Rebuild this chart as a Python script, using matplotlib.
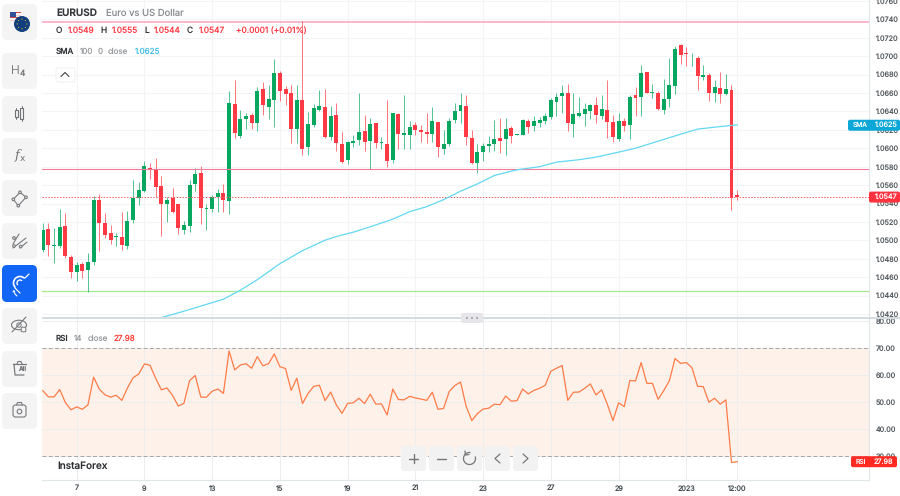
import numpy as np
import matplotlib
matplotlib.use('Agg')
import matplotlib.pyplot as plt
from matplotlib.patches import FancyBboxPatch, Circle, Ellipse, Rectangle, Wedge, Arc

plt.rcParams['font.family'] = ['Inter', 'DejaVu Sans']
plt.rcParams['text.hinting'] = 'no_hinting'
plt.rcParams['text.hinting_factor'] = 1

# H4 candles
opens = [1.04894, 1.05118, 1.04941, 1.04937, 1.05155, 1.04822, 1.04659, 1.04742, 1.04677, 1.04767,
         1.05437, 1.05184, 1.05075, 1.05032, 1.05039, 1.04937, 1.05220, 1.05455, 1.05538, 1.05788,
         1.05770, 1.05589, 1.05394, 1.05462, 1.05394, 1.05111, 1.05155, 1.05607, 1.05734, 1.05336,
         1.05336, 1.05473, 1.05509, 1.05430, 1.06476, 1.06136, 1.06317, 1.06360, 1.06277, 1.06642,
         1.06451, 1.06527, 1.06820, 1.06642, 1.06603, 1.06208, 1.06519, 1.06009, 1.06251, 1.06414,
         1.06451, 1.06118, 1.06360, 1.06049, 1.05871, 1.06056, 1.06085, 1.06190, 1.06078, 1.06273,
         1.06056, 1.06045, 1.05871, 1.06367, 1.06146, 1.06143, 1.06248, 1.06197, 1.06172, 1.06157,
         1.06281, 1.05994, 1.06042, 1.06302, 1.06404, 1.06458, 1.06110, 1.05842, 1.05958, 1.06023,
         1.06042, 1.06114, 1.06100, 1.06219, 1.06147, 1.06143, 1.06299, 1.06244, 1.06273, 1.06299,
         1.06342, 1.06505, 1.06570, 1.06603, 1.06266, 1.06353, 1.06375, 1.06404, 1.06472, 1.06353,
         1.06411, 1.06281, 1.06100, 1.06291, 1.06252, 1.06574, 1.06552, 1.06831, 1.06595, 1.06599,
         1.06414, 1.06534, 1.06679, 1.07120, 1.07033, 1.06975, 1.06983, 1.06776, 1.06791, 1.06595,
         1.06650, 1.06588, 1.06628, 1.05490]
closes = [1.05111, 1.04948, 1.04948, 1.05140, 1.04832, 1.04659, 1.04731, 1.04666, 1.04760, 1.05437,
          1.05184, 1.05057, 1.05003, 1.05050, 1.04948, 1.05209, 1.05455, 1.05546, 1.05803, 1.05770,
          1.05582, 1.05390, 1.05437, 1.05303, 1.05129, 1.05166, 1.05600, 1.05719, 1.05347, 1.05350,
          1.05466, 1.05509, 1.05437, 1.06487, 1.06161, 1.06320, 1.06349, 1.06270, 1.06621, 1.06469,
          1.06537, 1.06820, 1.06624, 1.06588, 1.06212, 1.06523, 1.05994, 1.06262, 1.06432, 1.06458,
          1.06125, 1.06349, 1.06060, 1.05846, 1.06067, 1.06081, 1.06175, 1.06063, 1.06262, 1.06060,
          1.06067, 1.05861, 1.06382, 1.06157, 1.06161, 1.06230, 1.06194, 1.06172, 1.06157, 1.06295,
          1.06016, 1.06042, 1.06299, 1.06407, 1.06469, 1.06118, 1.05842, 1.05958, 1.06027, 1.06042,
          1.06103, 1.06081, 1.06212, 1.06136, 1.06154, 1.06302, 1.06233, 1.06291, 1.06306, 1.06349,
          1.06519, 1.06559, 1.06599, 1.06273, 1.06371, 1.06385, 1.06425, 1.06469, 1.06360, 1.06425,
          1.06284, 1.06118, 1.06295, 1.06241, 1.06559, 1.06545, 1.06820, 1.06603, 1.06606, 1.06425,
          1.06537, 1.06686, 1.07073, 1.07012, 1.07026, 1.06983, 1.06787, 1.06794, 1.06599, 1.06661,
          1.06592, 1.06642, 1.05459, 1.05470]
highs = [1.05184, 1.05184, 1.05129, 1.05336, 1.05292, 1.04840, 1.04767, 1.04767, 1.04858, 1.05480,
         1.05502, 1.05292, 1.05166, 1.05075, 1.05310, 1.05321, 1.05654, 1.05636, 1.05864, 1.05842,
         1.05890, 1.05698, 1.05473, 1.05571, 1.05394, 1.05209, 1.05654, 1.05781, 1.05810, 1.05394,
         1.05491, 1.05553, 1.05611, 1.06621, 1.06740, 1.06414, 1.06385, 1.06385, 1.06668, 1.06722,
         1.06686, 1.06965, 1.06838, 1.06679, 1.06686, 1.06686, 1.07380, 1.06396, 1.06476, 1.06632,
         1.06642, 1.06458, 1.06487, 1.06179, 1.06078, 1.06143, 1.06595, 1.06360, 1.06324, 1.06273,
         1.06125, 1.06523, 1.06382, 1.06378, 1.06577, 1.06299, 1.06288, 1.06251, 1.06378, 1.06451,
         1.06288, 1.06197, 1.06324, 1.06487, 1.06595, 1.06574, 1.06197, 1.06045, 1.06052, 1.06132,
         1.06306, 1.06324, 1.06324, 1.06241, 1.06154, 1.06313, 1.06317, 1.06349, 1.06335, 1.06378,
         1.06541, 1.06603, 1.06686, 1.06693, 1.06603, 1.06559, 1.06494, 1.06480, 1.06552, 1.06577,
         1.06740, 1.06360, 1.06378, 1.06324, 1.06577, 1.06668, 1.06903, 1.06831, 1.06697, 1.06621,
         1.06747, 1.06983, 1.07113, 1.07127, 1.07095, 1.07037, 1.07001, 1.06903, 1.06813, 1.06740,
         1.06831, 1.06802, 1.06686, 1.05550]
lows = [1.04876, 1.04832, 1.04756, 1.04912, 1.04804, 1.04594, 1.04557, 1.04594, 1.04442, 1.04731,
        1.04883, 1.05021, 1.04959, 1.04941, 1.04894, 1.04901, 1.05184, 1.05383, 1.05528, 1.05665,
        1.05473, 1.05046, 1.05195, 1.05292, 1.05068, 1.05068, 1.05093, 1.05538, 1.05176, 1.05111,
        1.05310, 1.05310, 1.05310, 1.05285, 1.06114, 1.06107, 1.06212, 1.06204, 1.06190, 1.06360,
        1.06313, 1.06226, 1.06512, 1.06465, 1.06052, 1.06060, 1.05926, 1.05926, 1.06226, 1.06407,
        1.06107, 1.06089, 1.05973, 1.05842, 1.05824, 1.06016, 1.06034, 1.05969, 1.05770, 1.05998,
        1.05987, 1.05799, 1.05835, 1.05987, 1.05987, 1.05991, 1.06143, 1.06071, 1.06052, 1.06071,
        1.05900, 1.05933, 1.06027, 1.06270, 1.06270, 1.06034, 1.05828, 1.05734, 1.05864, 1.05962,
        1.05973, 1.05951, 1.05926, 1.06060, 1.06147, 1.06139, 1.06168, 1.06190, 1.06226, 1.06259,
        1.06313, 1.06353, 1.06378, 1.06190, 1.06118, 1.06335, 1.06241, 1.06313, 1.06277, 1.06313,
        1.06114, 1.06063, 1.06081, 1.06186, 1.06103, 1.06353, 1.06349, 1.06595, 1.06545, 1.06414,
        1.06371, 1.06443, 1.06588, 1.06914, 1.06892, 1.06892, 1.06632, 1.06740, 1.06512, 1.06498,
        1.06494, 1.06577, 1.05332, 1.05440]

sma_bars = [21, 25, 32, 35, 38, 42, 46, 50, 52, 55, 58, 62, 65, 68, 71, 74, 77, 80, 84, 88, 91, 95, 98,
            102, 105, 109, 113, 116, 119, 123]
sma_vals = [1.04161, 1.04231, 1.04361, 1.04459, 1.04573, 1.04747, 1.04888, 1.05002, 1.05042, 1.05089,
            1.05147, 1.05230, 1.05312, 1.05366, 1.05442, 1.05534, 1.05613, 1.05705, 1.05766, 1.05800,
            1.05849, 1.05876, 1.05904, 1.05958, 1.06001, 1.06077, 1.06153, 1.06208, 1.06229, 1.06254]

rsi = [54.3, 52.0, 52.0, 54.7, 49.9, 47.2, 48.3, 47.4, 49.0, 59.3, 54.9, 52.8, 51.9, 52.6, 50.7, 55.3,
       59.1, 60.5, 64.2, 63.7, 58.9, 54.6, 55.3, 52.5, 48.6, 49.6, 58.0, 59.9, 51.9, 51.9, 54.1, 54.9,
       53.3, 69.0, 62.0, 63.8, 64.3, 62.6, 66.9, 63.5, 64.3, 67.9, 63.2, 62.5, 54.4, 58.9, 49.5, 53.3,
       55.9, 56.3, 50.6, 53.8, 49.0, 45.9, 49.6, 49.8, 51.5, 49.5, 53.0, 49.3, 49.4, 45.3, 54.9, 51.0,
       50.9, 52.2, 51.6, 51.2, 50.7, 53.7, 47.4, 47.7, 54.0, 56.2, 57.5, 48.5, 43.2, 45.8, 47.5, 47.8,
       49.3, 49.1, 52.3, 50.4, 50.6, 54.9, 53.1, 54.4, 55.2, 56.3, 61.5, 62.6, 63.6, 50.7, 53.7, 53.8,
       55.2, 56.8, 52.7, 54.6, 49.3, 43.2, 49.8, 48.4, 58.1, 57.9, 64.7, 57.0, 57.0, 51.1, 54.3, 58.0,
       66.2, 64.4, 64.7, 62.8, 55.9, 55.8, 50.0, 51.5, 49.3, 50.9, 27.7, 27.98]

price_ticks = [1.0760, 1.0740, 1.0720, 1.0700, 1.0680, 1.0660, 1.0640, 1.0620, 1.0600, 1.0580, 1.0560,
               1.0540, 1.0520, 1.0500, 1.0480, 1.0460, 1.0440, 1.0420]
rsi_ticks = [80, 70, 60, 50, 40, 30]
x_bars = [6, 18, 30, 42, 54, 66, 78, 90, 102, 114, 123]
x_labels = ['7', '9', '13', '15', '19', '21', '23', '27', '29', '2023', '12:00']

resistance_hi = 1.07374
resistance_lo = 1.0577
support = 1.0445
last_close = 1.0547
sma_last = 1.0625
rsi_last = 27.98

GREEN = '#08a760'
RED = '#ff3a45'
GRID = '#f2f4f5'
W, H = 900, 496

fig = plt.figure(figsize=(9, 4.96), dpi=100, facecolor='white')


def px_axes(x0, y0, x1, y1):
    return fig.add_axes([x0 / W, 1 - y1 / H, (x1 - x0) / W, (y1 - y0) / H])


# price pane
ax = px_axes(42, 0, 869, 318)
bars = np.arange(len(opens))
o, c, h, l = map(np.array, (opens, closes, highs, lows))
colors = np.where(c >= o, GREEN, RED)
ax.set_xlim(-0.14, 146.36)
ax.set_ylim(1.04157, 1.07610)
ax.set_yticks(price_ticks)
ax.set_yticklabels(['%.4f' % t for t in price_ticks])
ax.set_xticks(x_bars)
ax.set_xticklabels([])
ax.yaxis.tick_right()
ax.tick_params(axis='y', length=0, labelsize=5.2, labelcolor='#555b60', pad=5)
ax.tick_params(axis='x', length=0)
ax.grid(True, color=GRID, lw=0.8)
ax.set_axisbelow(True)
for s in ['top', 'left', 'bottom']:
    ax.spines[s].set_visible(False)
ax.spines['right'].set_color('#dfe6e8')
ax.spines['right'].set_linewidth(0.8)

ax.axhline(resistance_hi, color='#f9a3bb', lw=1.1, zorder=1)
ax.axhline(resistance_lo, color='#f9799a', lw=0.8, zorder=4)
ax.axhline(support, color='#a5e88e', lw=0.9, zorder=1)
ax.axhline(last_close, color='#f2626a', lw=0.7, ls=(0, (1.5, 1.5)), zorder=4)
ax.vlines(bars, l, h, colors=colors, lw=0.7, alpha=0.7, zorder=2)
ax.bar(bars, np.maximum(np.abs(c - o), 0.00006), bottom=np.minimum(o, c), width=0.7, color=colors,
       lw=0, zorder=3)
ax.plot(sma_bars, sma_vals, color='#62d8f2', lw=0.9, zorder=5)

# rsi pane
ax2 = px_axes(42, 319, 869, 480)
ax2.set_xlim(-0.14, 146.36)
ax2.set_ylim(21.2, 80.85)
ax2.axhspan(30, 70, color='#fdf1ea', lw=0, zorder=0)
ax2.axhline(70, color='#a9a5a3', lw=0.7, ls=(0, (4, 2.5)), zorder=1)
ax2.axhline(30, color='#a9a5a3', lw=0.7, ls=(0, (4, 2.5)), zorder=1)
ax2.plot(bars, rsi, color='#ff7b47', lw=0.9, zorder=3)
ax2.set_yticks(rsi_ticks)
ax2.set_yticklabels(['%.2f' % t for t in rsi_ticks])
ax2.set_xticks(x_bars)
ax2.set_xticklabels(x_labels)
ax2.yaxis.tick_right()
ax2.tick_params(axis='y', length=0, labelsize=5.2, labelcolor='#555b60', pad=5)
ax2.tick_params(axis='x', length=0, labelsize=5.2, labelcolor='#444a4f', pad=3.5)
ax2.grid(True, color='#ecedee', lw=0.7, zorder=0)
ax2.set_axisbelow(True)
for s in ['top', 'left']:
    ax2.spines[s].set_visible(False)
for s in ['right', 'bottom']:
    ax2.spines[s].set_color('#dfe6e8')
    ax2.spines[s].set_linewidth(0.8)

# overlay in pixel coordinates for the app chrome
ui = fig.add_axes([0, 0, 1, 1], zorder=10)
ui.set_xlim(0, W)
ui.set_ylim(H, 0)
ui.axis('off')
ui.patch.set_alpha(0)


def price_y(a, val):
    return ui.transData.inverted().transform(a.transData.transform((0, val)))[1]


def box(x0, y0, x1, y1, color, r=4, z=2, **kw):
    ui.add_patch(FancyBboxPatch((x0 + r, y0 + r), x1 - x0 - 2 * r, y1 - y0 - 2 * r,
                                boxstyle='round,pad=%s,rounding_size=%s' % (r, r), fc=color, ec=kw.get('ec', 'none'),
                                lw=kw.get('lw', 0), zorder=z))


def txt(x, y, s, color='#333', size=5.8, weight='normal', ha='left', **kw):
    return ui.text(x, y, s, color=color, fontsize=size, fontweight=weight, ha=ha, va='center', zorder=6, **kw)


def icon(xs, ys, color='#77797c', lw=0.8):
    ui.plot(xs, ys, color=color, lw=lw, zorder=5, solid_capstyle='round')


# header texts
txt(56, 13.5, 'EURUSD', '#33363a', 7.2, 'semibold')
txt(105.5, 13.5, 'Euro vs US Dollar', '#8b8f93', 6.8)
row = [(56, 'O', '#33363a'), (67.5, '1.0549', RED), (100, 'H', '#33363a'), (111.5, '1.0555', RED),
       (144, 'L', '#33363a'), (154, '1.0544', RED), (187, 'C', '#33363a'), (198.5, '1.0547', RED),
       (236, '+0.0001 (+0.01%)', RED)]
for x, s, col in row:
    txt(x, 30.5, s, col, 6.0)
txt(56, 52, 'SMA', '#33363a', 5.8, 'medium')
txt(79.5, 52, '100', '#999c9f', 5.8)
txt(98, 52, '0', '#999c9f', 5.8)
txt(108, 52, 'close', '#999c9f', 5.8)
txt(134.5, 52, '1.0625', '#45bfe6', 5.8)
box(56, 68, 75, 82, 'white', r=2, ec='#eeeeee', lw=0.6)
icon([61, 65, 69], [76.5, 72.5, 76.5], '#444', 0.8)

txt(56, 339, 'RSI', '#33363a', 5.8, 'medium')
txt(74, 339, '14', '#999c9f', 5.8)
txt(87.5, 339, 'close', '#999c9f', 5.8)
txt(113.5, 339, '27.98', '#ff3b30', 5.8)
txt(57, 466.5, 'InstaForex', '#2d2f33', 7.2, 'medium')

# value tags on the right
y_sma = price_y(ax, sma_last)
box(848, y_sma - 5.5, 900, y_sma + 5.5, '#0ba7d6', r=2)
txt(853, y_sma, 'SMA', 'white', 4.8)
txt(874.5, y_sma, '1.0625', 'white', 5.2)
y_last = price_y(ax, last_close)
box(869, y_last - 5.5, 900, y_last + 5.5, '#ff3340', r=2)
txt(874.5, y_last, '1.0547', 'white', 5.2)
y_rsi = price_y(ax2, rsi_last)
box(851, y_rsi - 5.5, 897, y_rsi + 5.5, '#ff2a22', r=2)
txt(856, y_rsi, 'RSI', 'white', 4.8)
txt(874, y_rsi, '27.98', 'white', 5.2)

# pane separator
ui.add_patch(Rectangle((42, 317), 858, 1.8, fc='#d3dcdf', ec='none', zorder=4))
box(461, 313, 483, 323, '#e5e5ea', r=2.5, z=5)
for x in (467, 472, 477):
    ui.add_patch(Circle((x, 318), 1.0, fc='#9d9da3', ec='none', zorder=6))

# bottom zoom buttons
for x0 in (401, 429, 457, 485, 513):
    box(x0, 446, x0 + 25, 471, '#f2f2f2', r=3)
icon([409, 418], [458.5, 458.5], '#777', 1.0)
icon([413.5, 413.5], [454, 463], '#777', 1.0)
icon([437, 446], [458.5, 458.5], '#777', 1.0)
ui.add_patch(Arc((469.5, 458.5), 12, 12, theta1=-20, theta2=280, ec='#777', lw=0.9, zorder=5))
icon([465, 465.5, 469], [451, 455, 454.5], '#777', 0.9)
icon([500, 495, 500], [454, 458.5, 463], '#777', 0.9)
icon([523, 528, 523], [454, 458.5, 463], '#777', 0.9)

# sidebar
for y0 in (4, 53, 96, 138, 180, 223, 351, 393, 308):
    box(2, y0, 37, y0 + 36, '#f4f4f4', r=5)
box(2, 265, 37, 302, '#1166f5', r=5)

# flag badge
ui.add_patch(Wedge((16, 17), 6.2, 0, 360, fc='#f4f4f4', ec='none', zorder=3))
for yy, col in ((12.0, '#d8413e'), (14.5, '#f3d0cf'), (17.0, '#d8413e'), (19.5, '#f3d0cf')):
    ui.add_patch(Rectangle((9.5, yy), 11, 1.4, fc=col, ec='none', zorder=3))
ui.add_patch(Rectangle((10, 11.5), 6, 5.5, fc='#33509a', ec='none', zorder=3))
ui.add_patch(Circle((22, 24), 8, fc='#123f7c', ec='none', zorder=4))
for a in np.deg2rad(np.arange(0, 360, 45)):
    ui.add_patch(Circle((22 + 4.8 * np.cos(a), 24 + 4.8 * np.sin(a)), 0.55, fc='#ecc42e', ec='none', zorder=5))

# tool icons
txt(19.5, 70.5, 'H', '#6f7174', 8.5, 'light', ha='right')
txt(19.8, 73.5, '4', '#6f7174', 6.0)
for x, y0, y1, bt, bb in ((16, 108, 119, 110, 117), (21.5, 106, 121, 108, 119)):
    icon([x, x], [y0, y1], '#6f7174', 0.7)
    ui.add_patch(Rectangle((x - 1.5, bt), 3, bb - bt, fc='#f4f4f4', ec='#6f7174', lw=0.8, zorder=6))
ui.text(15, 156, 'f', color='#6f7174', fontsize=9, family='DejaVu Serif', style='italic', va='center', zorder=6)
ui.text(20, 159, 'x', color='#6f7174', fontsize=6.5, family='DejaVu Sans', va='center', zorder=6)
px, py = [13.3, 20, 26, 18.3, 13.3], [199.3, 192.3, 197.3, 205.7, 199.3]
icon(px, py, '#77797c', 0.8)
for a, b in zip(px[:-1], py[:-1]):
    ui.add_patch(Circle((a, b), 1.3, fc='#f4f4f4', ec='#77797c', lw=0.8, zorder=6))
for (xa, ya, xb, yb) in ((13, 244, 19, 234), (13, 248, 26, 238), (20, 248, 27, 242)):
    icon([xa, xb], [ya, yb], '#77797c', 0.8)
for a, b in ((14, 246), (20.7, 246.5), (14, 238)):
    ui.add_patch(Circle((a, b), 1.3, fc='#f4f4f4', ec='#77797c', lw=0.8, zorder=6))
# magnet
ui.add_patch(Arc((20, 283), 13, 13, angle=-45, theta1=180, theta2=360, ec='white', lw=1.2, zorder=6))
ui.add_patch(Arc((20, 283), 6, 6, angle=-45, theta1=180, theta2=360, ec='white', lw=1.0, zorder=6))
icon([15, 20], [288, 293], 'white', 0.9)
icon([25, 29], [278, 274], 'white', 0.9)
icon([13, 14, 15, 17], [292, 290.5, 294, 296], 'white', 0.8)
# hide eye
ui.add_patch(Ellipse((19, 325), 15, 9.5, fc='none', ec='#77797c', lw=0.8, zorder=5))
ui.add_patch(Circle((19, 325), 2.2, fc='none', ec='#77797c', lw=0.7, zorder=5))
icon([12, 26], [332, 317], '#77797c', 0.8)
ui.add_patch(FancyBboxPatch((22, 328), 3, 3, boxstyle='round,pad=0.8', fc='#f4f4f4', ec='#77797c', lw=0.7, zorder=6))
# delete all
icon([13, 26], [364, 364], '#77797c', 0.9)
icon([17, 18, 21, 22], [364, 361.5, 361.5, 364], '#77797c', 0.8)
icon([14, 15, 24], [364, 375, 375], '#77797c', 0.9)
txt(18.5, 369.5, 'All', '#77797c', 4.5, 'bold')
# screenshot
box(13, 405, 26, 417, '#f4f4f4', r=2.5, z=4, ec='#77797c', lw=0.8)
ui.add_patch(Circle((19.5, 411.5), 2.3, fc='none', ec='#77797c', lw=0.8, zorder=6))
icon([16.5, 17.5, 21.5, 22.5], [405, 402.5, 402.5, 405], '#77797c', 0.8)

fig.savefig('out.png', dpi=100)
